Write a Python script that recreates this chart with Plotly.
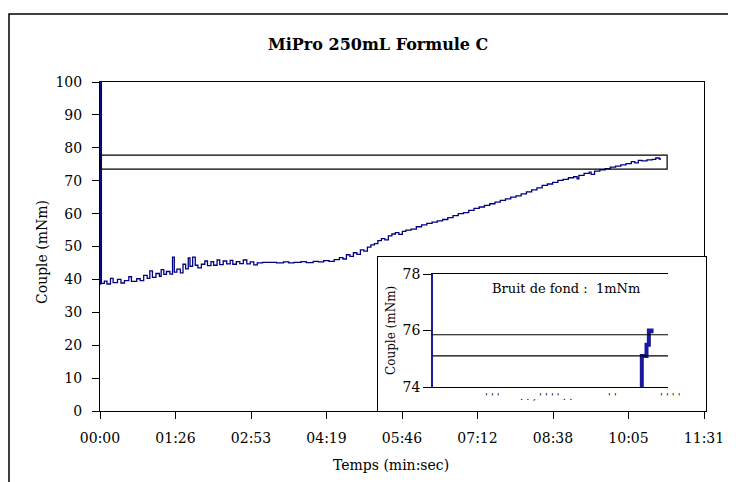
import plotly.graph_objects as go

W, H = 736, 482

# ---------------- data ----------------
time_s = [0, 0.8, 1.6, 5, 8, 12, 15, 20, 24, 28, 33, 36, 42, 46, 50, 54, 57, 60, 64, 68,
          70, 73, 76, 80, 83, 85, 88, 92, 95, 98, 101, 103, 106, 109, 112, 116, 120, 123,
          127, 130, 134, 137, 141, 145, 149, 152, 156, 160, 164, 168, 172, 176, 180, 186,
          194, 202, 210, 216, 222, 230, 236, 244, 250, 256, 262, 268, 274, 278, 282, 286,
          290, 294, 298, 302, 306, 310, 314, 318, 322, 326, 330, 334, 338, 342, 346, 350,
          356, 362, 368, 374, 380, 386, 392, 398, 404, 410, 416, 422, 428, 434, 440, 446,
          452, 458, 464, 470, 476, 482, 488, 494, 500, 506, 512, 518, 524, 530, 536, 542,
          546, 548, 554, 560, 562, 566, 572, 578, 584, 590, 596, 602, 608, 612, 616, 620,
          626, 632, 636, 640, 642]
couple = [38.6, 100, 38.8, 39.5, 38.6, 40.3, 39.0, 40.0, 38.9, 39.6, 40.8, 39.4, 40.2, 39.6,
          41.2, 40.3, 42.6, 40.6, 41.8, 40.9, 43.0, 41.5, 42.4, 41.6, 46.8, 42.2, 43.1, 42.0,
          44.6, 43.2, 46.5, 44.0, 46.8, 44.3, 43.5, 44.6, 45.6, 44.2, 45.4, 44.3, 45.9, 44.5,
          45.6, 44.7, 45.8, 44.6, 45.4, 44.8, 45.9, 44.7, 45.3, 44.4, 45.0, 45.2, 45.2, 45.0,
          45.3, 45.0, 45.2, 45.4, 45.1, 45.5, 45.3, 45.7, 45.5, 46.0, 46.6, 46.2, 47.5, 47.0,
          48.1, 47.6, 49.0, 48.6, 49.8, 50.5, 50.9, 51.8, 52.4, 52.0, 53.2, 53.8, 54.2, 53.7,
          54.6, 55.0, 55.3, 56.0, 56.6, 57.0, 57.4, 57.8, 58.2, 58.8, 59.4, 60.0, 60.3, 61.0,
          61.6, 62.0, 62.5, 63.0, 63.5, 64.0, 64.5, 65.0, 65.4, 66.0, 66.6, 67.2, 67.8, 68.6,
          69.0, 69.5, 70.1, 70.4, 70.9, 71.2, 70.6, 71.6, 72.2, 72.6, 71.9, 72.9, 73.3, 73.7,
          74.1, 74.4, 74.8, 75.2, 75.8, 75.4, 76.2, 76.0, 76.3, 76.5, 76.9, 76.6, 76.6]

tick_vals = [0, 86.4, 172.8, 259.2, 345.6, 432.0, 518.4, 604.8, 691.2]
tick_text = ["00:00", "01:26", "02:53", "04:19", "05:46", "07:12", "08:38", "10:05", "11:31"]

zoom_low, zoom_high, zoom_end = 73.5, 77.8, 649

inset_t = [610, 622, 636, 643, 651]
inset_v = [73.8, 75.1, 75.5, 76.0, 75.9]
inset_lines = [75.1, 75.85]

FONT = "DejaVu Serif"
OFF = 8  # page body margin offset
def px(x): return (x - OFF) / W
def py(y): return 1 - (y - OFF) / H

fig = go.Figure()

fig.add_trace(go.Scatter(x=time_s, y=couple, mode="lines", line=dict(color="#000080", width=1.3, shape="hv"),
                         xaxis="x", yaxis="y", showlegend=False, hoverinfo="skip"))
# white inset background
fig.add_trace(go.Scatter(x=[0, 1, 1, 0, 0], y=[0, 0, 1, 1, 0], mode="lines", fill="toself",
                         fillcolor="white", line=dict(width=0), xaxis="x2", yaxis="y2",
                         showlegend=False, hoverinfo="skip"))
fig.add_trace(go.Scatter(x=inset_t, y=inset_v, mode="lines", line=dict(color="#1a1a9a", width=4, shape="hv"),
                         xaxis="x3", yaxis="y3", showlegend=False, hoverinfo="skip"))

axfont = dict(family=FONT, size=14, color="black")
common = dict(showgrid=False, zeroline=False, automargin=False)
fig.update_layout(
    width=W, height=H, margin=dict(l=0, r=0, t=0, b=0, pad=0, autoexpand=False),
    paper_bgcolor="white", plot_bgcolor="rgba(0,0,0,0)", showlegend=False,
    xaxis=dict(domain=[px(100), px(704)], range=[0, 691.2], tickvals=tick_vals, ticktext=tick_text,
               ticks="outside", ticklen=7, tickcolor="black", showline=True, mirror=True,
               ticklabelstandoff=7,
               linecolor="black", linewidth=1, tickfont=axfont, anchor="y", **common),
    yaxis=dict(domain=[py(411), py(82)], range=[0, 100], dtick=10, ticks="outside", ticklen=7,
               tickcolor="black", showline=True, mirror=True, linecolor="black", linewidth=1,
               ticklabelstandoff=7,
               tickfont=axfont, anchor="x", **common),
    xaxis2=dict(domain=[px(378), px(706)], range=[0, 1], showline=True, mirror=True,
                linecolor="black", linewidth=1, showticklabels=False, ticks="", anchor="y2", **common),
    yaxis2=dict(domain=[py(411), py(257)], range=[0, 1], showline=True, mirror=True,
                linecolor="black", linewidth=1, showticklabels=False, ticks="", anchor="x2", **common),
    xaxis3=dict(domain=[px(433), px(668)], range=[0, 700], showline=True, mirror=True,
                linecolor="black", linewidth=1, showticklabels=False, ticks="", anchor="y3", **common),
    yaxis3=dict(domain=[py(387), py(274)], range=[74, 78], tickvals=[74, 76, 78], ticks="outside",
                ticklen=8, tickcolor="black", showline=True, mirror=False, linecolor="#1a1a9a",
                linewidth=1.5, tickfont=axfont, anchor="x3", **common),
)

shapes = [
    dict(type="rect", xref="x", yref="y", x0=0, x1=zoom_end, y0=zoom_low, y1=zoom_high,
         line=dict(color="black", width=1.2)),
    dict(type="rect", xref="paper", yref="paper", x0=px(9), x1=px(731), y0=-0.05, y1=py(14),
         line=dict(color="black", width=1.5)),
]
for v in inset_lines:
    shapes.append(dict(type="line", xref="x3 domain", yref="y3", x0=-0.005, x1=1.0, y0=v, y1=v,
                       line=dict(color="black", width=1.2)))
fig.update_layout(shapes=shapes)

ann = [
    dict(text="<b>MiPro 250mL Formule C</b>", x=px(378), y=py(45), font=dict(family=FONT, size=16)),
    dict(text="Couple (mNm)", x=px(42), y=py(252), textangle=-90, font=dict(family=FONT, size=14)),
    dict(text="Temps (min:sec)", x=px(391), y=py(465), font=dict(family=FONT, size=14)),
    dict(text="Bruit de fond :  1mNm", x=px(566), y=py(288), font=dict(family=FONT, size=13)),
    dict(text="Couple (mNm)", x=px(391), y=py(330), textangle=-90, font=dict(family=FONT, size=12)),
    dict(text="' ' '", x=px(493), y=py(396), font=dict(family=FONT, size=10)),
    dict(text=". . , ' ' ' ' . .", x=px(546), y=py(396), font=dict(family=FONT, size=10)),
    dict(text="' '", x=px(612), y=py(396), font=dict(family=FONT, size=10)),
    dict(text="' ' ' '", x=px(670), y=py(396), font=dict(family=FONT, size=10)),
]
for a in ann:
    a.update(xref="paper", yref="paper", showarrow=False, xanchor="center", yanchor="middle")
    a["font"]["color"] = "black"
fig.update_layout(annotations=ann)

fig.write_html("out.html")
